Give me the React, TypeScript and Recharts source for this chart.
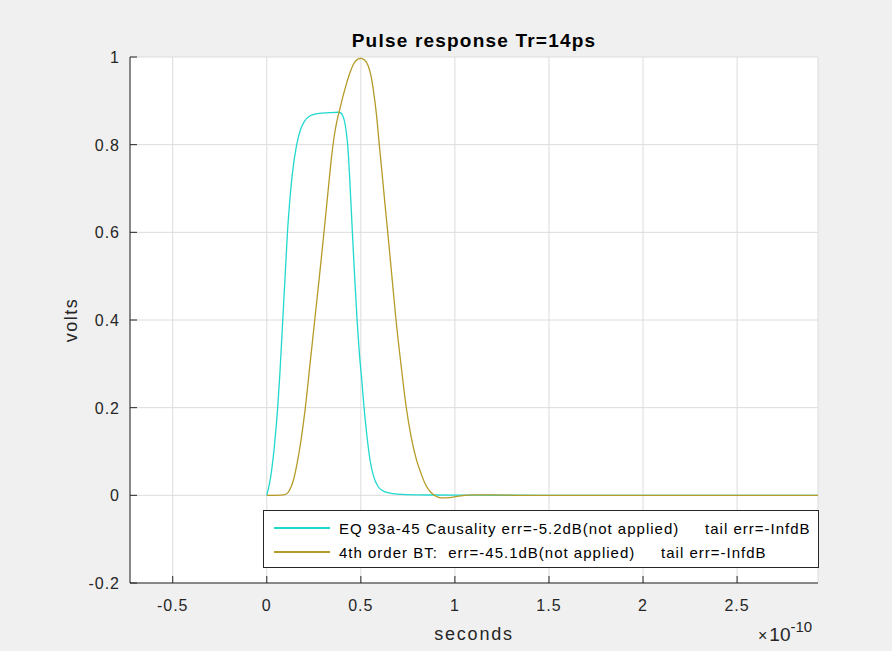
import { CartesianGrid, Line, LineChart, XAxis, YAxis } from "recharts";

const font = "'Liberation Sans', Arial, Helvetica, sans-serif";
const ink = "#262626";

// time axis in units of 1e-10 s
const xTicks = [-0.5, 0, 0.5, 1, 1.5, 2, 2.5];
const yTicks = [-0.2, 0, 0.2, 0.4, 0.6, 0.8, 1];

const causalT = [0, 0.02, 0.04, 0.058, 0.07, 0.085, 0.1, 0.11, 0.12, 0.135, 0.159, 0.18, 0.2, 0.23, 0.27, 0.33, 0.38, 0.395, 0.405, 0.415, 0.425, 0.43, 0.44, 0.455, 0.467, 0.48, 0.492, 0.505, 0.517, 0.531, 0.549, 0.566, 0.593, 0.628, 0.672, 0.72, 0.8, 1.0, 1.5, 2.93];
const causalV = [0, 0.04, 0.11, 0.2, 0.28, 0.4, 0.52, 0.6, 0.66, 0.73, 0.8, 0.835, 0.853, 0.866, 0.871, 0.873, 0.874, 0.872, 0.865, 0.85, 0.82, 0.8, 0.73, 0.6, 0.5, 0.4, 0.325, 0.263, 0.2, 0.141, 0.08, 0.046, 0.019, 0.008, 0.004, 0.002, 0.001, 0.0005, 0, 0];

const btT = [0, 0.05, 0.09, 0.11, 0.13, 0.142, 0.16, 0.18, 0.205, 0.23, 0.255, 0.28, 0.304, 0.318, 0.333, 0.345, 0.358, 0.372, 0.386, 0.405, 0.425, 0.443, 0.46, 0.48, 0.5, 0.52, 0.54, 0.555, 0.566, 0.584, 0.598, 0.611, 0.627, 0.643, 0.665, 0.687, 0.713, 0.74, 0.768, 0.795, 0.82, 0.841, 0.865, 0.885, 0.91, 0.935, 0.97, 1.02, 1.1, 1.2, 1.35, 2.93];
const btV = [0, 0, 0.001, 0.005, 0.02, 0.035, 0.07, 0.12, 0.2, 0.3, 0.4, 0.5, 0.6, 0.66, 0.725, 0.775, 0.818, 0.852, 0.877, 0.91, 0.941, 0.965, 0.983, 0.994, 0.997, 0.993, 0.979, 0.955, 0.926, 0.865, 0.8, 0.743, 0.67, 0.6, 0.5, 0.4, 0.3, 0.205, 0.132, 0.082, 0.05, 0.027, 0.01, 0.002, -0.004, -0.006, -0.005, -0.002, 0.001, 0.001, 0, 0];

const causal = causalT.map((t, i) => ({ t, v: causalV[i] }));
const bt = btT.map((t, i) => ({ t, v: btV[i] }));

const legendRows = [
  { color: "#21d8cf", label: "EQ 93a-45 Causality err=-5.2dB(not applied)     tail err=-InfdB" },
  { color: "#b59b27", label: "4th order BT:  err=-45.1dB(not applied)     tail err=-InfdB" }
];

function YTick({ x, y, payload }: any) {
  return (
    <g>
      <line x1={x} x2={x + 7} y1={y} y2={y} stroke={ink} />
      <text x={x - 10} y={y} dy={6} textAnchor="end" fill={ink} fontSize={16} letterSpacing={1} fontFamily={font}>
        {payload.value}
      </text>
    </g>
  );
}

function XTick({ x, y, payload }: any) {
  return (
    <g>
      <line x1={x} x2={x} y1={y} y2={y - 7} stroke={ink} />
      <text x={x} y={y + 28} textAnchor="middle" fill={ink} fontSize={16} letterSpacing={1} fontFamily={font}>
        {payload.value}
      </text>
    </g>
  );
}

export default function App() {
  return (
    <div style={{ position: "absolute", left: 0, top: 0, width: 892, height: 651, background: "#f0f0f0" }}>
      <LineChart width={892} height={651} margin={{ top: 57, right: 74, bottom: 0, left: 0 }}>
        <CartesianGrid stroke="#dcdcdc" fill="#fff" />
        <XAxis
          type="number"
          dataKey="t"
          domain={[-0.727, 2.93]}
          allowDataOverflow
          ticks={xTicks}
          height={68}
          tickSize={0}
          tickMargin={0}
          stroke={ink}
          tick={<XTick />}
        />
        <YAxis
          type="number"
          dataKey="v"
          domain={[-0.2, 1]}
          allowDataOverflow
          ticks={yTicks}
          width={130}
          tickSize={0}
          tickMargin={0}
          stroke={ink}
          tick={<YTick />}
        />
        <Line data={causal} dataKey="v" type="monotone" stroke="#21d8cf" strokeWidth={1.3} dot={false} isAnimationActive={false} />
        <Line data={bt} dataKey="v" type="monotone" stroke="#b59b27" strokeWidth={1.3} dot={false} isAnimationActive={false} />
        <text x={474} y={47} textAnchor="middle" fontFamily={font} fontSize={19} letterSpacing={1.2} fontWeight="bold" fill="#000">
          Pulse response Tr=14ps
        </text>
        <text x={474} y={640} textAnchor="middle" fontFamily={font} fontSize={18} letterSpacing={1.8} fill={ink}>
          seconds
        </text>
        <text transform="translate(77,320) rotate(-90)" textAnchor="middle" fontFamily={font} fontSize={18} letterSpacing={1.5} fill={ink}>
          volts
        </text>
        <text x={758} y={641} fontFamily={font} fontSize={16} fill={ink}>
          ×
          <tspan dx={2} fontSize={19}>10</tspan>
          <tspan dy={-9} fontSize={15}>-10</tspan>
        </text>
      </LineChart>
      <div
        style={{
          position: "absolute",
          left: 263,
          top: 510,
          width: 556,
          height: 58,
          boxSizing: "border-box",
          border: `1px solid ${ink}`,
          background: "#fff",
          fontFamily: font,
          fontSize: 15,
          letterSpacing: 1,
          color: "#000",
          paddingTop: 5
        }}
      >
        {legendRows.map((r) => (
          <div key={r.label} style={{ display: "flex", alignItems: "center", height: 24, whiteSpace: "pre" }}>
            <span style={{ display: "inline-block", width: 56, height: 1.5, background: r.color, marginLeft: 10, marginRight: 9 }} />
            {r.label}
          </div>
        ))}
      </div>
    </div>
  );
}
